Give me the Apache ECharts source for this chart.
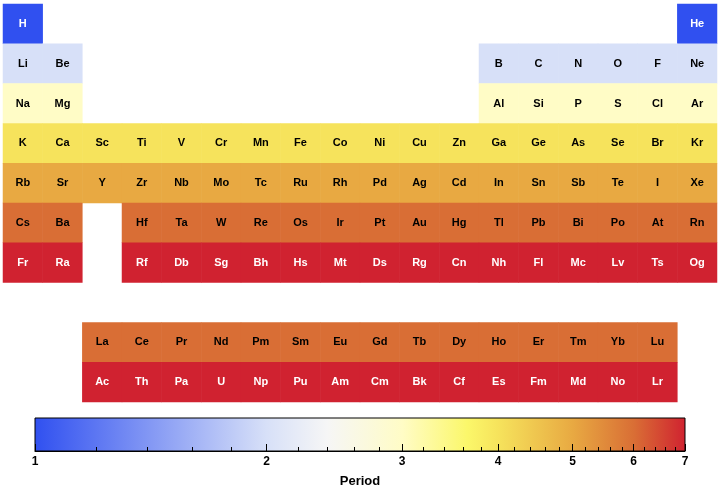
<!DOCTYPE html>
<html>
<head>
<meta charset="utf-8">
<style>
  html, body { margin: 0; padding: 0; background: #fff; }
  #chart { width: 720px; height: 492px; }
</style>
<script src="https://cdn.jsdelivr.net/npm/echarts@6/dist/echarts.min.js"></script>
</head>
<body>
<div id="chart"></div>
<script>
// table rows, 18 columns each (null = empty cell)
var row1 = ['H', null, null, null, null, null, null, null, null, null, null, null, null, null, null, null, null, 'He'];
var row2 = ['Li', 'Be', null, null, null, null, null, null, null, null, null, null, 'B', 'C', 'N', 'O', 'F', 'Ne'];
var row3 = ['Na', 'Mg', null, null, null, null, null, null, null, null, null, null, 'Al', 'Si', 'P', 'S', 'Cl', 'Ar'];
var row4 = ['K', 'Ca', 'Sc', 'Ti', 'V', 'Cr', 'Mn', 'Fe', 'Co', 'Ni', 'Cu', 'Zn', 'Ga', 'Ge', 'As', 'Se', 'Br', 'Kr'];
var row5 = ['Rb', 'Sr', 'Y', 'Zr', 'Nb', 'Mo', 'Tc', 'Ru', 'Rh', 'Pd', 'Ag', 'Cd', 'In', 'Sn', 'Sb', 'Te', 'I', 'Xe'];
var row6 = ['Cs', 'Ba', null, 'Hf', 'Ta', 'W', 'Re', 'Os', 'Ir', 'Pt', 'Au', 'Hg', 'Tl', 'Pb', 'Bi', 'Po', 'At', 'Rn'];
var row7 = ['Fr', 'Ra', null, 'Rf', 'Db', 'Sg', 'Bh', 'Hs', 'Mt', 'Ds', 'Rg', 'Cn', 'Nh', 'Fl', 'Mc', 'Lv', 'Ts', 'Og'];
var rowGap = [];
var lanthanides = [null, null, 'La', 'Ce', 'Pr', 'Nd', 'Pm', 'Sm', 'Eu', 'Gd', 'Tb', 'Dy', 'Ho', 'Er', 'Tm', 'Yb', 'Lu', null];
var actinides = [null, null, 'Ac', 'Th', 'Pa', 'U', 'Np', 'Pu', 'Am', 'Cm', 'Bk', 'Cf', 'Es', 'Fm', 'Md', 'No', 'Lr', null];

var tableRows = [row1, row2, row3, row4, row5, row6, row7, rowGap, lanthanides, actinides];
var rowPeriods = [1, 2, 3, 4, 5, 6, 7, null, 6, 7];

var columns = ['1','2','3','4','5','6','7','8','9','10','11','12','13','14','15','16','17','18'];
var rowNames = ['1','2','3','4','5','6','7','gap','La','Ac'];

var tickValues = [1, 2, 3, 4, 5, 6, 7];
var minorTickValues = [];
tickValues.slice(0, -1).forEach(function(t) {
  [0.2, 0.4, 0.6, 0.8].forEach(function(f) { minorTickValues.push(+(t + f).toFixed(1)); });
});

var LOGMAX = Math.log(7);

// colour map (position along normalised log period, colour)
var cmapStops = [
  [0, '#3050f0'],
  [0.356, '#d7e0f8'],
  [0.45, '#f6f6f6'],
  [0.565, '#fffcc6'],
  [0.665, '#fbf76a'],
  [0.712, '#f6e35c'],
  [0.827, '#e8a942'],
  [0.921, '#d96e35'],
  [1, '#d02230']
];

function hexToRgb(h) {
  return [parseInt(h.substr(1, 2), 16), parseInt(h.substr(3, 2), 16), parseInt(h.substr(5, 2), 16)];
}
function cmap(t) {
  for (var i = 1; i < cmapStops.length; i++) {
    if (t <= cmapStops[i][0]) {
      var a = cmapStops[i - 1], b = cmapStops[i];
      var f = (t - a[0]) / (b[0] - a[0]);
      var ca = hexToRgb(a[1]), cb = hexToRgb(b[1]);
      return 'rgb(' + ca.map(function(v, k) { return Math.round(v + (cb[k] - v) * f); }).join(',') + ')';
    }
  }
  return cmapStops[cmapStops.length - 1][1];
}
var cmapSamples = [];
for (var s = 0; s <= 200; s++) cmapSamples.push(cmap(s / 200));

var cells = [];
tableRows.forEach(function(row, r) {
  row.forEach(function(sym, c) {
    if (!sym) return;
    var p = rowPeriods[r];
    cells.push({
      value: [c, r, Math.log(p), sym],
      label: { color: (p === 1 || p === 7) ? '#fff' : '#000' }
    });
  });
});

var chart = echarts.init(document.getElementById('chart'), null, { renderer: 'canvas' });
var font = '"Liberation Sans", Arial, Helvetica, sans-serif';

chart.setOption({
  animation: false,
  textStyle: { fontFamily: font },
  grid: [
    { left: 3, right: 3, top: 4, height: 398 },
    { left: 35, width: 650, top: 418, height: 33 }
  ],
  xAxis: [
    { gridIndex: 0, type: 'category', data: columns, show: false },
    {
      gridIndex: 1, type: 'value', min: 0, max: LOGMAX, z: 10,
      name: 'Period', nameLocation: 'middle', nameGap: 24,
      nameTextStyle: { color: '#000', fontWeight: 'bold', fontSize: 13, fontFamily: font },
      axisLine: { show: true, lineStyle: { color: '#000', width: 1 } },
      axisTick: { show: true, inside: true, length: 7, lineStyle: { color: '#000' },
        customValues: tickValues.map(function(v) { return Math.log(v); }) },
      axisLabel: { show: true, color: '#000', fontWeight: 'bold', fontSize: 12, margin: 5, fontFamily: font,
        customValues: tickValues.map(function(v) { return Math.log(v); }),
        formatter: function(v) { return String(Math.round(Math.exp(v))); } },
      splitLine: { show: false }
    },
    {
      gridIndex: 1, type: 'value', min: 0, max: LOGMAX, position: 'bottom', z: 10,
      axisLine: { show: false },
      axisTick: { show: true, inside: true, length: 4, lineStyle: { color: '#000' },
        customValues: minorTickValues.map(function(v) { return Math.log(v); }) },
      axisLabel: { show: false },
      splitLine: { show: false }
    }
  ],
  yAxis: [
    { gridIndex: 0, type: 'category', data: rowNames, inverse: true, show: false },
    { gridIndex: 1, type: 'value', min: 0, max: 1, show: false }
  ],
  visualMap: {
    type: 'continuous', show: false, seriesIndex: 0, dimension: 2,
    min: 0, max: LOGMAX, inRange: { color: cmapSamples }
  },
  series: [
    {
      type: 'heatmap',
      xAxisIndex: 0, yAxisIndex: 0,
      data: cells,
      itemStyle: { borderWidth: 0 },
      label: {
        show: true, fontWeight: 'bold', fontSize: 11, fontFamily: font,
        formatter: function(p) { return p.value[3]; }
      },
      emphasis: { disabled: true }
    },
    {
      type: 'custom',
      xAxisIndex: 1, yAxisIndex: 1,
      data: [[0, LOGMAX]],
      silent: true,
      z: 1,
      renderItem: function(params, api) {
        var p0 = api.coord([api.value(0), 0]);
        var p1 = api.coord([api.value(1), 1]);
        return {
          type: 'rect',
          shape: { x: p0[0], y: p1[1], width: p1[0] - p0[0], height: p0[1] - p1[1] },
          style: {
            fill: new echarts.graphic.LinearGradient(0, 0, 1, 0,
              cmapStops.map(function(st) { return { offset: st[0], color: st[1] }; })),
            stroke: '#000', lineWidth: 1
          }
        };
      }
    }
  ]
});
</script>
</body>
</html>
